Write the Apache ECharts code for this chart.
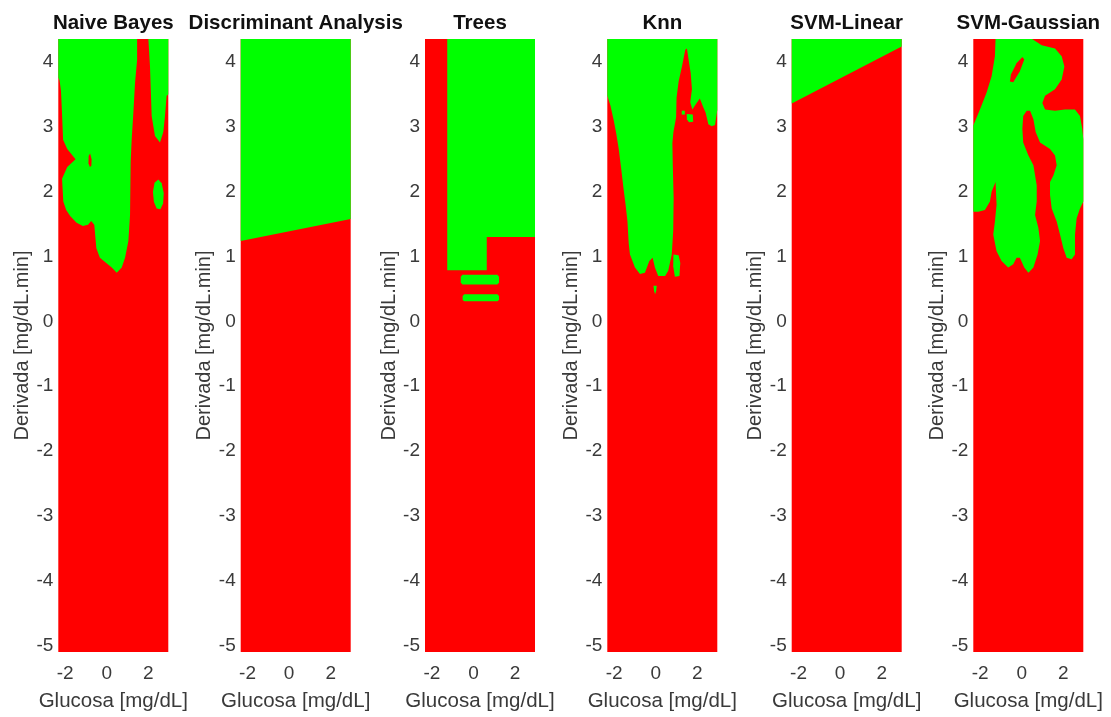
<!DOCTYPE html>
<html>
<head>
<meta charset="utf-8">
<script src="https://cdn.jsdelivr.net/npm/echarts@6/dist/echarts.min.js"></script>
<style>
  html, body { margin: 0; padding: 0; background: #ffffff; }
  #chart { width: 1111px; height: 717px; }
</style>
</head>
<body>
<div id="chart"></div>
<script>
// Classifier names, one panel each
const classifierNames = ['Naive Bayes', 'Discriminant Analysis', 'Trees', 'Knn', 'SVM-Linear', 'SVM-Gaussian'];

// Feature ranges covered by the decision grid
const glucoseRange = [-2.33, 2.96];
const derivRange = [-5.1, 4.356];

// Tick labels
const glucoseTicks = [-2, 0, 2];
const derivTicks = [-5, -4, -3, -2, -1, 0, 1, 2, 3, 4];

// Predicted regions as [glucosa, derivada] outlines; cls 1 = green, cls 0 = red.
// Regions are painted in order, over a class-0 background.
const naiveBayesRegions = [
  { cls: 1, pts: [[-2.33,4.36],[1.46,4.36],[1.46,4.03],[1.36,3.68],[1.28,3.22],[1.20,2.81],[1.15,2.46],[1.12,1.64],[1.04,1.24],[0.88,0.98],[0.72,0.83],[0.48,0.75],[0.24,0.83],[-0.33,0.98],[-0.50,1.13],[-0.60,1.49],[-0.75,1.55],[-0.90,1.49],[-1.15,1.47],[-1.45,1.52],[-1.75,1.62],[-1.95,1.72],[-2.09,1.85],[-2.15,2.20],[-1.90,2.38],[-1.50,2.50],[-1.90,2.66],[-2.10,2.80],[-2.15,3.20],[-2.20,3.55],[-2.27,3.72],[-2.33,3.76]] },
  { cls: 0, pts: [[-0.80,2.59],[-0.73,2.50],[-0.74,2.40],[-0.81,2.38],[-0.88,2.44],[-0.87,2.55]] },
  { cls: 1, pts: [[2.00,4.36],[2.96,4.36],[2.96,3.50],[2.88,3.48],[2.80,3.17],[2.72,2.92],[2.56,2.76],[2.32,2.86],[2.16,3.17],[2.08,3.93]] },
  { cls: 1, pts: [[2.48,2.19],[2.64,2.13],[2.74,1.98],[2.71,1.82],[2.58,1.73],[2.40,1.74],[2.27,1.84],[2.22,2.00],[2.30,2.14]] }
];

const discriminantRegions = [
  { cls: 1, pts: [[-2.33,4.36],[2.96,4.36],[2.96,1.58],[-2.33,1.24]] }
];

const treeRegions = [
  { cls: 1, pts: [[-1.26,4.36],[2.96,4.36],[2.96,1.30],[0.64,1.30],[0.64,0.79],[-1.26,0.79]] },
  { cls: 1, pts: [[-0.53,0.72],[1.15,0.72],[1.23,0.69],[1.23,0.60],[1.15,0.57],[-0.53,0.57],[-0.61,0.60],[-0.61,0.69]] },
  { cls: 1, pts: [[-0.44,0.42],[1.15,0.42],[1.23,0.39],[1.23,0.33],[1.15,0.31],[-0.44,0.31],[-0.52,0.33],[-0.52,0.39]] }
];

const knnRegions = [
  { cls: 1, pts: [[-2.33,4.36],[2.96,4.36],[2.96,3.26],[2.85,3.03],[2.69,3.01],[2.53,3.04],[2.40,3.22],[2.29,3.30],[2.12,3.44],[1.95,3.36],[1.76,3.27],[1.66,3.38],[1.74,3.58],[1.68,3.83],[1.56,4.08],[1.50,4.21],[1.42,4.19],[1.26,3.93],[1.10,3.70],[1.00,3.45],[0.98,3.15],[0.85,2.92],[0.80,2.75],[0.82,2.40],[0.86,1.90],[0.84,1.40],[0.77,1.03],[0.60,0.78],[0.45,0.70],[0.12,0.70],[-0.04,0.83],[-0.15,0.98],[-0.31,0.93],[-0.52,0.75],[-0.76,0.73],[-1.00,0.83],[-1.24,1.03],[-1.30,1.20],[-1.36,1.54],[-1.45,1.80],[-1.55,2.05],[-1.66,2.35],[-1.78,2.66],[-1.90,2.90],[-2.02,3.10],[-2.18,3.33],[-2.33,3.48]] },
  { cls: 1, pts: [[0.85,1.03],[1.10,1.02],[1.18,0.90],[1.14,0.70],[0.92,0.69],[0.84,0.85]] },
  { cls: 1, pts: [[-0.11,0.55],[0.05,0.55],[0.02,0.47],[-0.03,0.42],[-0.08,0.47]] },
  { cls: 1, pts: [[1.25,3.25],[1.40,3.25],[1.40,3.19],[1.25,3.19]] },
  { cls: 1, pts: [[1.49,3.20],[1.78,3.19],[1.80,3.08],[1.60,3.07],[1.50,3.12]] }
];

const svmLinearRegions = [
  { cls: 1, pts: [[-2.33,4.36],[2.96,4.36],[2.96,4.24],[-2.33,3.36]] }
];

const svmGaussianRegions = [
  { cls: 1, pts: [[-1.26,4.36],[0.48,4.36],[0.96,4.26],[1.60,4.21],[1.92,4.09],[2.05,3.93],[1.92,3.73],[1.60,3.58],[1.12,3.48],[0.99,3.37],[1.12,3.27],[1.60,3.25],[2.08,3.27],[2.56,3.27],[2.80,3.17],[2.91,2.97],[2.96,2.81],[2.96,1.85],[2.80,1.74],[2.64,1.59],[2.56,1.34],[2.56,1.03],[2.40,0.96],[2.16,0.98],[2.00,1.13],[1.84,1.34],[1.68,1.54],[1.44,1.74],[1.36,1.95],[1.36,2.15],[1.52,2.25],[1.68,2.41],[1.60,2.56],[1.36,2.66],[0.88,2.76],[0.67,2.92],[0.56,3.12],[0.40,3.25],[0.24,3.25],[0.07,3.17],[0.03,2.97],[0.07,2.76],[0.32,2.56],[0.56,2.41],[0.72,2.10],[0.72,1.85],[0.64,1.64],[0.80,1.44],[0.88,1.24],[0.76,1.03],[0.56,0.83],[0.32,0.75],[0.12,0.83],[-0.09,0.98],[-0.25,0.98],[-0.41,0.88],[-0.65,0.83],[-0.97,0.93],[-1.21,1.08],[-1.37,1.34],[-1.29,1.54],[-1.21,1.80],[-1.26,2.15],[-1.45,2.00],[-1.53,1.85],[-1.77,1.72],[-2.09,1.69],[-2.33,1.69],[-2.33,3.02],[-2.01,3.27],[-1.69,3.53],[-1.45,3.78],[-1.29,4.09]] },
  { cls: 0, pts: [[0.03,4.08],[0.12,4.04],[-0.09,3.86],[-0.41,3.69],[-0.57,3.70],[-0.52,3.81],[-0.25,3.98]] }
];

const panelRegions = [naiveBayesRegions, discriminantRegions, treeRegions, knnRegions, svmLinearRegions, svmGaussianRegions];

const classColors = ['#ff0000', '#00ff00'];
const textFont = '"Liberation Sans", Arial, Helvetica, sans-serif';
const tickColor = '#3a3a3a';

// Panel placement (px)
const panelLefts = [58.3, 240.7, 425, 607.3, 791.7, 973.3];
const panelWidth = 110;
const panelTop = 39;
const panelHeight = 619.5;

// Whole-domain background of class 0
const backgroundRegion = {
  cls: 0,
  pts: [[glucoseRange[0], derivRange[0]], [glucoseRange[1], derivRange[0]],
        [glucoseRange[1], derivRange[1]], [glucoseRange[0], derivRange[1]]]
};

const grids = [], xAxes = [], yAxes = [], series = [], titles = [];

panelRegions.forEach(function (regions, i) {
  const all = [backgroundRegion].concat(regions);
  grids.push({ left: panelLefts[i], top: panelTop, width: panelWidth, height: panelHeight, containLabel: false });
  xAxes.push({
    gridIndex: i, type: 'value', min: glucoseRange[0], max: glucoseRange[1],
    axisLine: { show: false }, axisTick: { show: false }, splitLine: { show: false },
    axisLabel: { customValues: glucoseTicks, fontSize: 19, color: tickColor, margin: 12, fontFamily: textFont },
    name: 'Glucosa [mg/dL]', nameLocation: 'middle', nameGap: 39,
    nameTextStyle: { fontSize: 20.5, color: tickColor, fontFamily: textFont }
  });
  yAxes.push({
    gridIndex: i, type: 'value', min: derivRange[0], max: derivRange[1],
    axisLine: { show: false }, axisTick: { show: false }, splitLine: { show: false },
    axisLabel: { customValues: derivTicks, fontSize: 19, color: tickColor, margin: 5, padding: [5, 0, 0, 0], fontFamily: textFont },
    name: 'Derivada [mg/dL.min]', nameLocation: 'middle', nameRotate: 90, nameGap: 25,
    nameTextStyle: { fontSize: 20, color: tickColor, fontFamily: textFont }
  });
  series.push({
    type: 'custom', xAxisIndex: i, yAxisIndex: i, clip: true, silent: true, animation: false,
    data: all.map(function (r) { return r.pts[0]; }),
    renderItem: function (params, api) {
      const region = all[params.dataIndex];
      return {
        type: 'polygon',
        shape: { points: region.pts.map(function (p) { return api.coord(p); }) },
        style: { fill: classColors[region.cls], stroke: null }
      };
    }
  });
  titles.push({
    text: classifierNames[i], left: panelLefts[i] + panelWidth / 2, top: 13, textAlign: 'center', padding: 0,
    textStyle: { fontSize: 20.5, fontWeight: 'bold', color: '#111111', fontFamily: textFont }
  });
});

const chart = echarts.init(document.getElementById('chart'), null, { renderer: 'canvas' });
chart.setOption({
  animation: false,
  backgroundColor: '#ffffff',
  title: titles,
  grid: grids,
  xAxis: xAxes,
  yAxis: yAxes,
  series: series
});
</script>
</body>
</html>
